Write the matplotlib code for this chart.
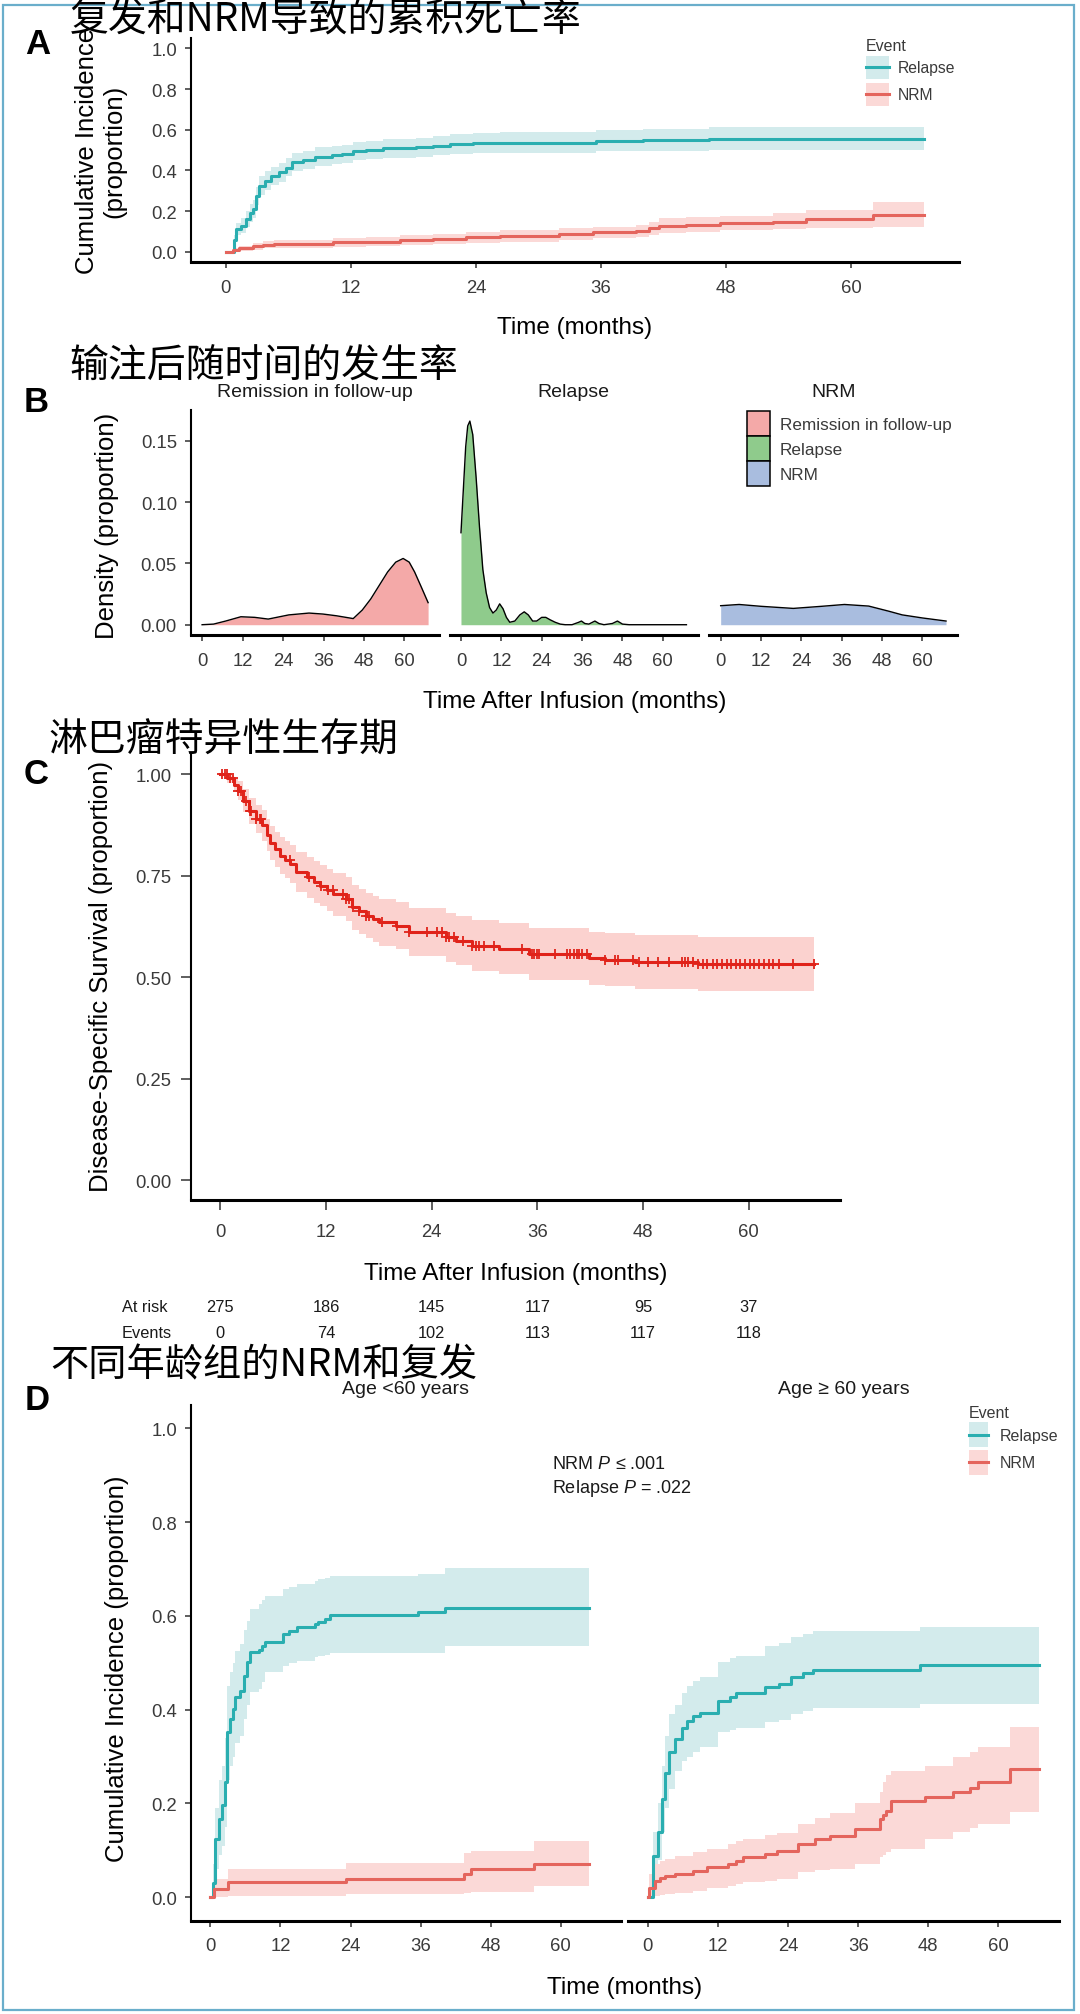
import numpy as np
import matplotlib
matplotlib.use("Agg")
import matplotlib.pyplot as plt
from matplotlib.patches import Rectangle, Patch
from matplotlib.lines import Line2D
from matplotlib.legend_handler import HandlerBase
from matplotlib.transforms import blended_transform_factory

# ---------------- data ----------------
# A: cumulative incidence, all patients
a_rel_t = [0, 0.8, 1.0, 1.5, 1.9, 2.3, 2.6, 2.9, 3.2, 3.8, 4.3, 5.1, 5.8, 6.4, 7.4, 8.6, 10.2, 11.2, 12.2,
           13.5, 15.1, 18.3, 19.9, 21.5, 23.7, 26.3, 35.5, 40.0, 46.4, 67.0]
a_rel_v = [0, 0.06, 0.11, 0.127, 0.16, 0.19, 0.21, 0.275, 0.325, 0.35, 0.374, 0.39, 0.414, 0.44, 0.452, 0.468,
           0.475, 0.48, 0.496, 0.50, 0.508, 0.513, 0.521, 0.529, 0.534, 0.537, 0.545, 0.55, 0.556, 0.556]
a_rel_lo = [0, 0.04, 0.08, 0.09, 0.12, 0.145, 0.165, 0.23, 0.28, 0.305, 0.33, 0.345, 0.37, 0.395, 0.407, 0.423,
            0.43, 0.435, 0.451, 0.455, 0.463, 0.467, 0.474, 0.481, 0.484, 0.487, 0.493, 0.496, 0.5, 0.5]
a_rel_hi = [0, 0.08, 0.14, 0.165, 0.2, 0.235, 0.255, 0.32, 0.37, 0.395, 0.419, 0.435, 0.459, 0.485, 0.497, 0.513,
            0.52, 0.525, 0.541, 0.545, 0.553, 0.559, 0.568, 0.577, 0.584, 0.587, 0.597, 0.604, 0.612, 0.612]

a_nrm_t = [0, 0.7, 1.3, 2.6, 3.6, 4.6, 7.1, 10.3, 13.5, 16.7, 19.9, 23.1, 26.3, 32.0, 35.2, 39.4, 40.6, 41.6,
           44.2, 47.4, 52.5, 55.7, 62.1, 67.0]
a_nrm_v = [0, 0.008, 0.016, 0.026, 0.034, 0.037, 0.04, 0.046, 0.05, 0.058, 0.062, 0.07, 0.078, 0.087, 0.095,
           0.10, 0.115, 0.128, 0.133, 0.141, 0.148, 0.161, 0.18, 0.18]
a_nrm_lo = [0, 0, 0.004, 0.01, 0.016, 0.018, 0.02, 0.025, 0.028, 0.034, 0.037, 0.043, 0.05, 0.06, 0.066, 0.07,
            0.082, 0.092, 0.097, 0.108, 0.11, 0.118, 0.12, 0.12]
a_nrm_hi = [0, 0.016, 0.028, 0.042, 0.052, 0.056, 0.06, 0.067, 0.072, 0.082, 0.087, 0.097, 0.106, 0.115, 0.124,
            0.13, 0.148, 0.164, 0.17, 0.178, 0.19, 0.206, 0.243, 0.243]

# B: density of time after infusion by outcome
b_groups = ['Remission in follow-up', 'Relapse', 'NRM']
b_rem_t = [0, 3.4, 7, 11.5, 15.6, 19.6, 25.7, 31.7, 35.8, 39.8, 44.8, 47.5, 50, 52.5, 55, 57.4, 59.6, 61.4,
           63, 65.1, 67]
b_rem_d = [0, 0.0005, 0.003, 0.0065, 0.006, 0.0046, 0.008, 0.0095, 0.0087, 0.0073, 0.005, 0.012, 0.021, 0.032,
           0.043, 0.051, 0.054, 0.051, 0.043, 0.030, 0.018]
b_rel_t = [0, 0.7, 1.4, 2.0, 2.64, 3.5, 4.5, 5.5, 6.5, 7.5, 8.5, 9.5, 10.5, 11.5, 12.5, 13.5, 14.5, 16, 17.5,
           18.8, 20, 21.3, 22.5, 24, 25.2, 26.5, 28, 29.5, 31, 33, 35, 35.8, 36.8, 38, 39.8, 41, 42.5, 45, 46.5,
           48, 50, 67]
b_rel_d = [0.075, 0.11, 0.145, 0.162, 0.166, 0.155, 0.12, 0.08, 0.045, 0.026, 0.014, 0.0095, 0.012, 0.017,
           0.013, 0.006, 0.002, 0.003, 0.008, 0.0105, 0.008, 0.003, 0.003, 0.006, 0.006, 0.004, 0.002, 0.0005,
           0, 0, 0.002, 0.003, 0.001, 0.0005, 0.003, 0.001, 0, 0.001, 0.003, 0.0005, 0, 0]
b_nrm_t = [0, 5.5, 12, 21.6, 30, 36.8, 44, 50, 54, 60, 67]
b_nrm_d = [0.0155, 0.0165, 0.015, 0.0133, 0.015, 0.0165, 0.0152, 0.011, 0.008, 0.0055, 0.003]

# C: disease-specific survival
c_t = [0, 0.8, 1.5, 2.0, 2.6, 3.3, 4.0, 4.7, 5.3, 5.6, 6.2, 6.8, 7.4, 7.9, 8.6, 9.8, 10.6, 11.3, 12.1, 12.8,
       14.3, 15.0, 15.8, 16.5, 17.3, 18.0, 19.9, 21.4, 25.6, 26.7, 28.6, 31.6, 35.0, 41.8, 43.7, 47.1, 54.2, 67.4]
c_s = [1.0, 0.99, 0.975, 0.96, 0.935, 0.91, 0.89, 0.874, 0.85, 0.83, 0.815, 0.80, 0.79, 0.779, 0.759, 0.746,
       0.735, 0.726, 0.715, 0.705, 0.693, 0.672, 0.662, 0.652, 0.643, 0.635, 0.627, 0.612, 0.598, 0.59, 0.578,
       0.57, 0.557, 0.547, 0.543, 0.538, 0.532, 0.532]
c_lo = [1.0, 0.978, 0.958, 0.937, 0.907, 0.878, 0.855, 0.836, 0.81, 0.788, 0.771, 0.755, 0.744, 0.731, 0.71,
        0.696, 0.684, 0.675, 0.663, 0.652, 0.639, 0.617, 0.607, 0.596, 0.586, 0.578, 0.569, 0.553, 0.538, 0.529,
        0.516, 0.507, 0.493, 0.482, 0.478, 0.472, 0.466, 0.466]
c_hi = [1.0, 1.0, 0.992, 0.983, 0.963, 0.942, 0.925, 0.912, 0.89, 0.872, 0.859, 0.845, 0.836, 0.827, 0.808,
        0.796, 0.786, 0.777, 0.767, 0.758, 0.747, 0.727, 0.717, 0.708, 0.7, 0.692, 0.685, 0.671, 0.658, 0.651,
        0.64, 0.633, 0.621, 0.612, 0.608, 0.604, 0.598, 0.598]
c_censor = [0.15, 0.52, 0.71, 1.1, 1.46, 2.03, 2.4, 2.97, 3.35, 3.54, 4.1, 4.48, 4.67, 7.88, 10.1, 11.46, 12.2,
            12.77, 13.9, 14.3, 14.66, 15.04, 15.8, 16.5, 16.9, 18.4, 20.1, 21.4, 23.5, 24.6, 25.2, 25.6, 25.97,
            26.5, 27.5, 28.6, 29.0, 29.4, 29.9, 31.1, 34.3, 35.4, 35.6, 36.0, 36.2, 38.0, 39.4, 39.7, 40.1, 40.5,
            40.7, 41.06, 41.6, 43.7, 44.8, 45.2, 46.9, 47.5, 48.6, 49.7, 50.9, 52.4, 52.7, 53.1, 53.7, 54.2,
            54.8, 55.3, 55.9, 56.4, 57.0, 57.5, 58.0, 58.5, 59.0, 59.6, 60.1, 60.6, 61.2, 61.7, 62.3, 62.8, 63.4,
            65.0, 67.4]
risk_times = [0, 12, 24, 36, 48, 60]
at_risk = [275, 186, 145, 117, 95, 37]
events = [0, 74, 102, 113, 117, 118]

# D: by age group
d1_rel_t = [0, 0.5, 0.85, 1.4, 2.0, 2.55, 2.85, 3.3, 3.85, 4.3, 5.0, 5.7, 6.3, 6.8, 8.25, 8.8, 9.4, 12.5, 13.4,
            14.8, 17.9, 18.5, 19.6, 20.5, 35.6, 40.1, 64.9]
d1_rel_v = [0, 0.03, 0.124, 0.167, 0.196, 0.246, 0.353, 0.38, 0.402, 0.427, 0.441, 0.473, 0.502, 0.523, 0.527,
            0.537, 0.545, 0.562, 0.569, 0.577, 0.583, 0.588, 0.594, 0.601, 0.608, 0.618, 0.618]
d1_rel_lo = [0, 0.0, 0.06, 0.09, 0.11, 0.15, 0.25, 0.28, 0.3, 0.33, 0.345, 0.38, 0.41, 0.437, 0.445, 0.46, 0.48,
             0.494, 0.5, 0.505, 0.512, 0.515, 0.517, 0.522, 0.522, 0.536, 0.536]
d1_rel_hi = [0, 0.07, 0.19, 0.25, 0.28, 0.34, 0.45, 0.48, 0.5, 0.525, 0.54, 0.57, 0.59, 0.615, 0.625, 0.635,
             0.643, 0.657, 0.662, 0.668, 0.675, 0.678, 0.68, 0.685, 0.689, 0.703, 0.703]
d1_nrm_t = [0, 0.55, 3.1, 23.3, 43.5, 44.7, 55.5, 64.9]
d1_nrm_v = [0, 0.018, 0.032, 0.039, 0.05, 0.061, 0.071, 0.071]
d1_nrm_lo = [0, 0.0, 0.003, 0.007, 0.01, 0.012, 0.025, 0.025]
d1_nrm_hi = [0, 0.04, 0.06, 0.073, 0.095, 0.099, 0.121, 0.121]

d2_rel_t = [0, 0.32, 1.0, 1.85, 2.42, 3.0, 3.73, 4.7, 5.84, 6.7, 7.83, 8.97, 12.1, 14.1, 15.2, 20.1, 22.4, 24.6,
            26.6, 28.3, 46.5, 66.9]
d2_rel_v = [0, 0.0, 0.089, 0.139, 0.21, 0.266, 0.31, 0.337, 0.362, 0.377, 0.387, 0.394, 0.419, 0.427, 0.436,
            0.448, 0.455, 0.469, 0.478, 0.485, 0.495, 0.495]
d2_rel_lo = [0, 0, 0.04, 0.08, 0.14, 0.19, 0.23, 0.27, 0.29, 0.3, 0.31, 0.32, 0.352, 0.356, 0.36, 0.374, 0.378,
             0.391, 0.397, 0.403, 0.413, 0.413]
d2_rel_hi = [0, 0, 0.14, 0.2, 0.28, 0.345, 0.39, 0.41, 0.435, 0.45, 0.462, 0.47, 0.501, 0.51, 0.515, 0.537,
             0.542, 0.555, 0.562, 0.569, 0.577, 0.577]
d2_nrm_t = [0, 0.3, 1.3, 2.14, 3.0, 4.7, 7.83, 10.1, 13.8, 15.2, 16.4, 20.1, 22.1, 25.8, 28.6, 31.2, 35.4, 39.7,
            40.3, 40.8, 41.7, 47.4, 52.2, 55.06, 56.5, 61.9, 66.9]
d2_nrm_v = [0, 0.02, 0.035, 0.042, 0.046, 0.05, 0.057, 0.064, 0.071, 0.078, 0.085, 0.092, 0.099, 0.113, 0.124,
            0.131, 0.145, 0.167, 0.175, 0.185, 0.206, 0.213, 0.224, 0.234, 0.245, 0.273, 0.273]
d2_nrm_lo = [0, 0.0, 0.003, 0.005, 0.007, 0.01, 0.014, 0.02, 0.025, 0.028, 0.032, 0.035, 0.04, 0.053, 0.058,
             0.06, 0.07, 0.085, 0.09, 0.097, 0.103, 0.124, 0.14, 0.148, 0.156, 0.181, 0.181]
d2_nrm_hi = [0, 0.05, 0.07, 0.077, 0.082, 0.088, 0.097, 0.104, 0.114, 0.12, 0.125, 0.132, 0.138, 0.157, 0.17,
             0.179, 0.2, 0.225, 0.245, 0.26, 0.27, 0.281, 0.299, 0.31, 0.32, 0.363, 0.363]

month_ticks = [0, 12, 24, 36, 48, 60]

# ---------------- style ----------------
REL_COL, REL_RIB = '#2aaeb0', '#d3ebec'
NRM_COL, NRM_RIB = '#e4655d', '#fbd9d7'
B_COLS = ['#f4a9a8', '#8fcb8c', '#a9bddf']
C_COL, C_RIB = '#e0231a', '#fbd2cf'
TICK_COL = '#3a3a3a'
CJK = ['Noto Sans CJK SC', 'DejaVu Sans']

plt.rcParams['font.family'] = ['Liberation Sans', 'DejaVu Sans']
plt.rcParams['mathtext.fontset'] = 'custom'
plt.rcParams['mathtext.it'] = 'Liberation Sans:italic'
plt.rcParams['mathtext.rm'] = 'Liberation Sans'

W, H = 1080, 2015
fig = plt.figure(figsize=(W / 100, H / 100), dpi=100)


def fx(x):
    return x / W


def fy(y):
    return 1 - y / H


def box(x0, y0, x1, y1):
    return [x0 / W, 1 - y1 / H, (x1 - x0) / W, (y1 - y0) / H]


class KeyHandler(HandlerBase):
    """ggplot-like key: fixed-height box, optional line through its middle."""

    def __init__(self, box_h):
        super().__init__()
        self.box_h = box_h

    def create_artists(self, legend, orig_handle, xdescent, ydescent, width, height, fontsize, trans):
        if isinstance(orig_handle, tuple):
            patch, line = orig_handle
        else:
            patch, line = orig_handle, None
        yc = height / 2 - ydescent
        r = Rectangle((-xdescent, yc - self.box_h / 2), width, self.box_h)
        r.update_from(patch)
        r.set_transform(trans)
        out = [r]
        if line is not None:
            out.append(Line2D([-xdescent, -xdescent + width], [yc, yc], color=line.get_color(),
                              lw=line.get_linewidth(), transform=trans))
        return out


def style(ax, left=True, tick_len=4, xpad=8, ypad=6):
    ax.patch.set_visible(False)
    ax.spines['top'].set_visible(False)
    ax.spines['right'].set_visible(False)
    ax.spines['bottom'].set_linewidth(2.2)
    ax.spines['left'].set_linewidth(1.5)
    ax.tick_params(axis='x', length=tick_len, width=1.1, color='#333333', labelsize=13.3,
                   labelcolor=TICK_COL, pad=xpad)
    ax.tick_params(axis='y', length=tick_len, width=1.1, color='#333333', labelsize=13.3,
                   labelcolor=TICK_COL, pad=ypad)
    if not left:
        ax.spines['left'].set_visible(False)
        ax.tick_params(axis='y', left=False, labelleft=False)
    ax.set_xlim(-3.35, 70.35)
    ax.set_xticks(month_ticks)


def ci_curve(ax, t, v, lo, hi, col, rib):
    ax.fill_between(t, lo, hi, step='post', color=rib, lw=0)
    ax.plot(t, v, drawstyle='steps-post', color=col, lw=2.2)


def grey_legend(leg):
    for t in leg.get_texts():
        t.set_color(TICK_COL)
    leg.get_title().set_color(TICK_COL)


# border
fig.add_artist(Rectangle((fx(3), fy(2011)), fx(1071), (2011 - 6) / H, transform=fig.transFigure,
                         fill=False, edgecolor='#6aaecb', lw=1.6))

# ---------------- A ----------------
axA = fig.add_axes(box(190.8, 39.2, 959, 262.9))
ci_curve(axA, a_rel_t, a_rel_v, a_rel_lo, a_rel_hi, REL_COL, REL_RIB)
ci_curve(axA, a_nrm_t, a_nrm_v, a_nrm_lo, a_nrm_hi, NRM_COL, NRM_RIB)
style(axA)
axA.set_ylim(-0.05, 1.05)
axA.set_yticks([0, 0.2, 0.4, 0.6, 0.8, 1.0])
axA.set_yticklabels(['0.0', '0.2', '0.4', '0.6', '0.8', '1.0'])
hA = [(Patch(facecolor=REL_RIB, edgecolor='none'), Line2D([], [], color=REL_COL, lw=2.2)),
      (Patch(facecolor=NRM_RIB, edgecolor='none'), Line2D([], [], color=NRM_COL, lw=2.2))]
legA = axA.legend(hA, ['Relapse', 'NRM'], title='Event', loc='upper left',
                  bbox_to_anchor=(fx(866), fy(39)), bbox_transform=fig.transFigure, frameon=False,
                  fontsize=11.3, title_fontsize=11.5, handlelength=1.47, handleheight=2.0,
                  handletextpad=0.55, labelspacing=0.15, borderpad=0, borderaxespad=0, alignment='left',
                  handler_map={tuple: KeyHandler(16.6)})
grey_legend(legA)
fig.text(fx(100.5), fy(151), 'Cumulative Incidence\n(proportion)', rotation=90, ha='center', va='center',
         fontsize=18.5, linespacing=1.15)
fig.text(fx(575), fy(328), 'Time (months)', ha='center', va='center', fontsize=17.5)
fig.text(fx(70), fy(20), '复发和NRM导致的累积死亡率', ha='left', va='center', fontsize=28, family=CJK)
fig.text(fx(25), fy(45), 'A', ha='left', va='center', fontsize=25, fontweight='bold')

# ---------------- B ----------------
b_x = [(190.8, 439.4), (449.7, 697.7), (709.4, 957.3)]
b_data = [(b_rem_t, b_rem_d), (b_rel_t, b_rel_d), (b_nrm_t, b_nrm_d)]
b_axes = []
for i, ((x0, x1), (t, d)) in enumerate(zip(b_x, b_data)):
    ax = fig.add_axes(box(x0, 411.4, x1, 635.9))
    ax.fill_between(t, 0, d, color=B_COLS[i], lw=0)
    ax.plot(t, d, color='black', lw=1.0)
    style(ax, left=(i == 0))
    ax.set_ylim(-0.0083, 0.1747)
    ax.set_yticks([0, 0.05, 0.10, 0.15])
    ax.set_yticklabels(['0.00', '0.05', '0.10', '0.15'])
    fig.text(fx((x0 + x1) / 2), fy(392.7), b_groups[i], ha='center', va='center', fontsize=14,
             color='#1a1a1a')
    b_axes.append(ax)
hB = [Patch(facecolor=c, edgecolor='black', lw=1.1) for c in B_COLS]
legB = b_axes[2].legend(hB, b_groups, loc='upper left', bbox_to_anchor=(fx(747), fy(411.7)),
                        bbox_transform=fig.transFigure, frameon=False, fontsize=12.3, handlelength=1.35,
                        handleheight=1.875, handletextpad=0.56, labelspacing=0.0, borderpad=0,
                        borderaxespad=0, handler_map={Patch: KeyHandler(18)})
grey_legend(legB)
fig.text(fx(106.7), fy(526), 'Density (proportion)', rotation=90, ha='center', va='center', fontsize=18.5)
fig.text(fx(575), fy(701.7), 'Time After Infusion (months)', ha='center', va='center', fontsize=17.5)
fig.text(fx(69), fy(366), '输注后随时间的发生率', ha='left', va='center', fontsize=28, family=CJK)
fig.text(fx(24), fy(403), 'B', ha='left', va='center', fontsize=25, fontweight='bold')

# ---------------- C ----------------
axC = fig.add_axes(box(190.8, 755.1, 840, 1201.3))
axC.fill_between(c_t, c_lo, c_hi, step='post', color=C_RIB, lw=0)
axC.plot(c_t, c_s, drawstyle='steps-post', color=C_COL, lw=2.2)
idx = np.searchsorted(c_t, c_censor, side='right') - 1
axC.plot(c_censor, np.array(c_s)[idx], '+', color=C_COL, ms=7, mew=1.3)
style(axC, tick_len=7.5, xpad=9, ypad=6.5)
axC.set_ylim(-0.05, 1.05)
axC.set_yticks([0, 0.25, 0.5, 0.75, 1.0])
axC.set_yticklabels(['0.00', '0.25', '0.50', '0.75', '1.00'])
fig.text(fx(101), fy(976), 'Disease-Specific Survival (proportion)', rotation=90, ha='center', va='center',
         fontsize=18.5)
fig.text(fx(515.5), fy(1273.6), 'Time After Infusion (months)', ha='center', va='center', fontsize=17.5)
trC = blended_transform_factory(axC.transData, fig.transFigure)
fig.text(fx(122), fy(1307.5), 'At risk', ha='left', va='center', fontsize=11.8, color='#1a1a1a')
fig.text(fx(122), fy(1334), 'Events', ha='left', va='center', fontsize=11.8, color='#1a1a1a')
for t, r, e in zip(risk_times, at_risk, events):
    axC.text(t, fy(1307.5), str(r), transform=trC, ha='center', va='center', fontsize=11.8, color='#1a1a1a')
    axC.text(t, fy(1334), str(e), transform=trC, ha='center', va='center', fontsize=11.8, color='#1a1a1a')
fig.text(fx(48), fy(741), '淋巴瘤特异性生存期', ha='left', va='center', fontsize=28, family=CJK)
fig.text(fx(24), fy(775), 'C', ha='left', va='center', fontsize=25, fontweight='bold')

# ---------------- D ----------------
axD1 = fig.add_axes(box(190.8, 1406, 621.2, 1921.7))
axD2 = fig.add_axes(box(628, 1406, 1059, 1921.7))
ci_curve(axD1, d1_rel_t, d1_rel_v, d1_rel_lo, d1_rel_hi, REL_COL, REL_RIB)
ci_curve(axD1, d1_nrm_t, d1_nrm_v, d1_nrm_lo, d1_nrm_hi, NRM_COL, NRM_RIB)
ci_curve(axD2, d2_rel_t, d2_rel_v, d2_rel_lo, d2_rel_hi, REL_COL, REL_RIB)
ci_curve(axD2, d2_nrm_t, d2_nrm_v, d2_nrm_lo, d2_nrm_hi, NRM_COL, NRM_RIB)
for ax, left in ((axD1, True), (axD2, False)):
    style(ax, left=left)
    ax.set_ylim(-0.05, 1.05)
    ax.set_yticks([0, 0.2, 0.4, 0.6, 0.8, 1.0])
    ax.set_yticklabels(['0.0', '0.2', '0.4', '0.6', '0.8', '1.0'])
axD1.text(58.5, 0.925, 'NRM $P$ ≤ .001', ha='left', va='center', fontsize=13, color='#1a1a1a',
          clip_on=False)
axD1.text(58.5, 0.873, 'Relapse $P$ = .022', ha='left', va='center', fontsize=13, color='#1a1a1a',
          clip_on=False)
fig.text(fx(406), fy(1389), 'Age <60 years', ha='center', va='center', fontsize=14, color='#1a1a1a')
fig.text(fx(843.5), fy(1389), 'Age ≥ 60 years', ha='center', va='center', fontsize=14, color='#1a1a1a')
legD = axD2.legend(hA, ['Relapse', 'NRM'], title='Event', loc='upper left',
                   bbox_to_anchor=(fx(969), fy(1406)), bbox_transform=fig.transFigure, frameon=False,
                   fontsize=11.5, title_fontsize=11.5, handlelength=1.19, handleheight=2.1,
                   handletextpad=0.75, labelspacing=0.12, borderpad=0, borderaxespad=0, alignment='left',
                   handler_map={tuple: KeyHandler(18)})
grey_legend(legD)
fig.text(fx(117), fy(1669), 'Cumulative Incidence (proportion)', rotation=90, ha='center', va='center',
         fontsize=18.5)
fig.text(fx(625), fy(1988), 'Time (months)', ha='center', va='center', fontsize=17.5)
fig.text(fx(50), fy(1366), '不同年龄组的NRM和复发', ha='left', va='center', fontsize=27.5, family=CJK)
fig.text(fx(25), fy(1400), 'D', ha='left', va='center', fontsize=25, fontweight='bold')

fig.savefig('out.png', dpi=100)
